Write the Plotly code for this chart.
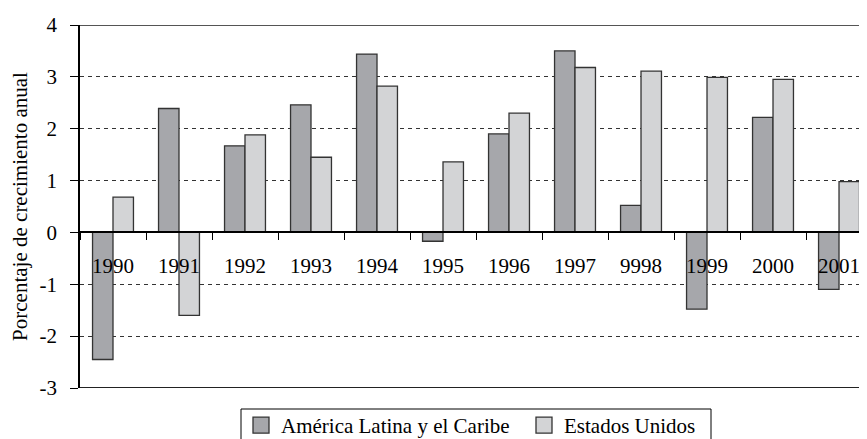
import plotly.graph_objects as go

years = ["1990", "1991", "1992", "1993", "1994", "1995", "1996", "1997", "9998", "1999", "2000", "2001"]
america_latina = [-2.45, 2.39, 1.67, 2.46, 3.44, -0.17, 1.90, 3.50, 0.52, -1.48, 2.22, -1.10]
estados_unidos = [0.68, -1.60, 1.88, 1.45, 2.82, 1.36, 2.30, 3.18, 3.11, 2.99, 2.95, 0.98]
series_names = ["América Latina y el Caribe", "Estados Unidos"]
y_ticks = [4, 3, 2, 1, 0, -1, -2, -3]
y_tick_text = ["4", "3", "2", "1", "0", "-1", "-2", "-3"]

FONT = "Liberation Serif"
FS = 21
DARK = "#a6a7ab"
LIGHT = "#d3d4d6"
EDGE = "#333333"

fig = go.Figure()
for name, vals, col in [(series_names[0], america_latina, DARK), (series_names[1], estados_unidos, LIGHT)]:
    fig.add_trace(go.Bar(x=years, y=vals, name=name, marker=dict(color=col, line=dict(color=EDGE, width=1.3)),
                         showlegend=False))
    fig.add_trace(go.Scatter(x=[None], y=[None], mode="markers", name=name,
                             marker=dict(symbol="square", size=18, color=col, line=dict(color=EDGE, width=1.3))))

ymin, ymax = -3, 4
plot_w, plot_h = 787, 363
fig.update_layout(
    width=859, height=431,
    margin=dict(l=72, r=0, t=17, b=51, autoexpand=False),
    paper_bgcolor="white", plot_bgcolor="white",
    font=dict(family=FONT, size=FS, color="black"),
    barmode="group", bargap=0.38, bargroupgap=0,
    showlegend=True,
    legend=dict(orientation="h", x=161 / plot_w, y=-17 / plot_h, xanchor="left", yanchor="top",
                borderwidth=0, bgcolor="rgba(0,0,0,0)", font=dict(family=FONT, size=FS, color="black"),
                itemsizing="trace", traceorder="normal", entrywidth=238, entrywidthmode="pixels"),
    xaxis=dict(type="category", range=[-0.5, 11.424], anchor="free", position=(0 - ymin) / (ymax - ymin),
               showline=True, linecolor="black", linewidth=1.5, ticks="outside", tickson="boundaries",
               ticklen=7, tickcolor="black", tickwidth=1.3, showgrid=False, ticklabelstandoff=15,
               tickfont=dict(family=FONT, size=FS, color="black")),
    yaxis=dict(range=[ymin, ymax], tickvals=y_ticks, ticktext=y_tick_text, showline=True, linecolor="black",
               linewidth=1.5, ticks="outside", ticklen=8, tickcolor="black", tickwidth=1.3, zeroline=False,
               showgrid=True, gridcolor="#333333", gridwidth=1, griddash="4px,4px", ticklabelstandoff=9,
               tickfont=dict(family=FONT, size=FS, color="black"),
               title=dict(text="Porcentaje de crecimiento anual", standoff=10,
                          font=dict(family=FONT, size=FS, color="black"))),
)
for yv, col in [(ymax, "#555555"), (ymin, "#222222")]:
    fig.add_shape(type="line", xref="paper", yref="y", x0=0, x1=1, y0=yv, y1=yv,
                  line=dict(color=col, width=2), layer="above")
# legend frame
fig.add_shape(type="rect", xref="paper", yref="paper", x0=161 / plot_w, x1=631 / plot_w,
              y0=-21 / plot_h, y1=-80 / plot_h, line=dict(color="black", width=1), fillcolor="rgba(0,0,0,0)",
              layer="below")

fig.write_html("out.html")
